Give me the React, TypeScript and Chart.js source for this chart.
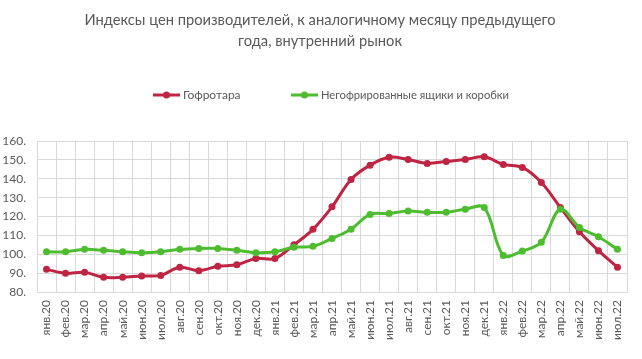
import React, { useEffect, useRef } from "react";
import { Chart, registerables } from "chart.js";

Chart.register(...registerables);

const titleLines = [
  "Индексы цен производителей, к аналогичному месяцу предыдущего",
  "года, внутренний рынок",
];

const months = [
  "янв.20", "фев.20", "мар.20", "апр.20", "май.20", "июн.20", "июл.20", "авг.20",
  "сен.20", "окт.20", "ноя.20", "дек.20", "янв.21", "фев.21", "мар.21", "апр.21",
  "май.21", "июн.21", "июл.21", "авг.21", "сен.21", "окт.21", "ноя.21", "дек.21",
  "янв.22", "фев.22", "мар.22", "апр.22", "май.22", "июн.22", "июл.22",
];

const seriesNames = ["Гофротара", "Негофрированные ящики и коробки"];

const corrugated = [
  92.0, 89.9, 90.4, 87.8, 87.8, 88.5, 88.8, 93.1, 91.3, 93.6, 94.4, 97.8, 97.7,
  105.0, 113.2, 125.1, 139.6, 147.2, 151.4, 150.2, 148.1, 149.2, 150.2, 151.6,
  147.6, 146.0, 138.0, 124.8, 111.9, 101.9, 93.1,
];

const nonCorrugated = [
  101.3, 101.3, 102.6, 102.1, 101.3, 100.8, 101.3, 102.6, 103.1, 103.1, 102.1,
  100.8, 101.3, 103.7, 104.2, 108.4, 113.3, 121.1, 121.6, 122.9, 122.2, 122.2,
  123.9, 124.8, 99.4, 101.7, 106.3, 123.9, 114.2, 109.3, 102.6,
];

const yMin = 80;
const yMax = 160;
const yStep = 10;

const RED = "#BF2543";
const GREEN = "#4DBD2F";
const TEXT = "#595959";
const GRID = "#D9D9D9";
const FONT = "Lato";

const headerPlugin = {
  id: "header",
  afterDraw(chart: any) {
    const ctx = chart.ctx as CanvasRenderingContext2D;
    ctx.save();
    // title
    ctx.font = `14.7px ${FONT}`;
    ctx.fillStyle = TEXT;
    ctx.textAlign = "center";
    ctx.textBaseline = "middle";
    titleLines.forEach((line, i) => ctx.fillText(line, 320, 20.5 + i * 21));

    // legend
    ctx.font = `12px ${FONT}`;
    const y = 95;
    const lineLen = 27;
    const gapText = 3;
    const starts = [153, 291];
    const maxW = [60, 188];
    chart.data.datasets
      .slice()
      .sort((a: any, b: any) => (a.legendIndex ?? 0) - (b.legendIndex ?? 0))
      .forEach((ds: any, i: number) => {
        const x = starts[i];
        ctx.strokeStyle = ds.borderColor;
        ctx.lineWidth = 3;
        ctx.beginPath();
        ctx.moveTo(x, y);
        ctx.lineTo(x + lineLen, y);
        ctx.stroke();
        ctx.fillStyle = ds.borderColor;
        ctx.beginPath();
        ctx.arc(x + lineLen / 2, y, 3.5, 0, Math.PI * 2);
        ctx.fill();
        ctx.fillStyle = TEXT;
        ctx.textAlign = "left";
        ctx.textBaseline = "middle";
        ctx.fillText(ds.label, x + lineLen + gapText, y, maxW[i]);
      });
    ctx.restore();
  },
};

export default function App() {
  const ref = useRef<HTMLCanvasElement | null>(null);

  useEffect(() => {
    if (!ref.current) return;
    Chart.defaults.font.family = FONT;
    const chart = new Chart(ref.current, {
      type: "line",
      data: {
        labels: months,
        datasets: [
          {
            label: seriesNames[0],
            data: corrugated,
            borderColor: RED,
            backgroundColor: RED,
            pointBackgroundColor: RED,
            pointBorderColor: RED,
            borderWidth: 3,
            pointRadius: 3.5,
            pointBorderWidth: 0,
            tension: 0.35,
            order: 1,
            legendIndex: 0,
          } as any,
          {
            label: seriesNames[1],
            data: nonCorrugated,
            borderColor: GREEN,
            backgroundColor: GREEN,
            pointBackgroundColor: GREEN,
            pointBorderColor: GREEN,
            borderWidth: 3,
            pointRadius: 3.5,
            pointBorderWidth: 0,
            tension: 0.35,
            order: 0,
            legendIndex: 1,
          } as any,
        ],
      },
      options: {
        responsive: false,
        animation: false,
        layout: { padding: { left: 0, right: 15, top: 141, bottom: 0 } },
        plugins: {
          legend: { display: false },
          tooltip: { enabled: false },
          title: { display: false },
        },
        scales: {
          x: {
            type: "category",
            offset: true,
            grid: { color: GRID, offset: true, drawTicks: false },
            border: { color: GRID },
            ticks: {
              color: TEXT,
              font: { size: 12, family: FONT },
              minRotation: 90,
              maxRotation: 90,
              autoSkip: false,
              padding: 8,
            },
            afterFit: (scale: any) => {
              scale.height = 67;
            },
          },
          y: {
            min: yMin,
            max: yMax,
            grid: { color: GRID, drawTicks: false },
            border: { color: GRID },
            ticks: {
              stepSize: yStep,
              color: TEXT,
              font: { size: 12, family: FONT },
              padding: 11,
              callback: (v: any) => `${v}.`,
            },
            afterFit: (scale: any) => {
              scale.width = 37;
            },
          },
        },
      },
      plugins: [headerPlugin],
    });
    return () => chart.destroy();
  }, []);

  return (
    <div style={{ position: "absolute", left: 0, top: 0, width: 642, height: 359 }}>
      <canvas ref={ref} width={642} height={359} />
    </div>
  );
}
